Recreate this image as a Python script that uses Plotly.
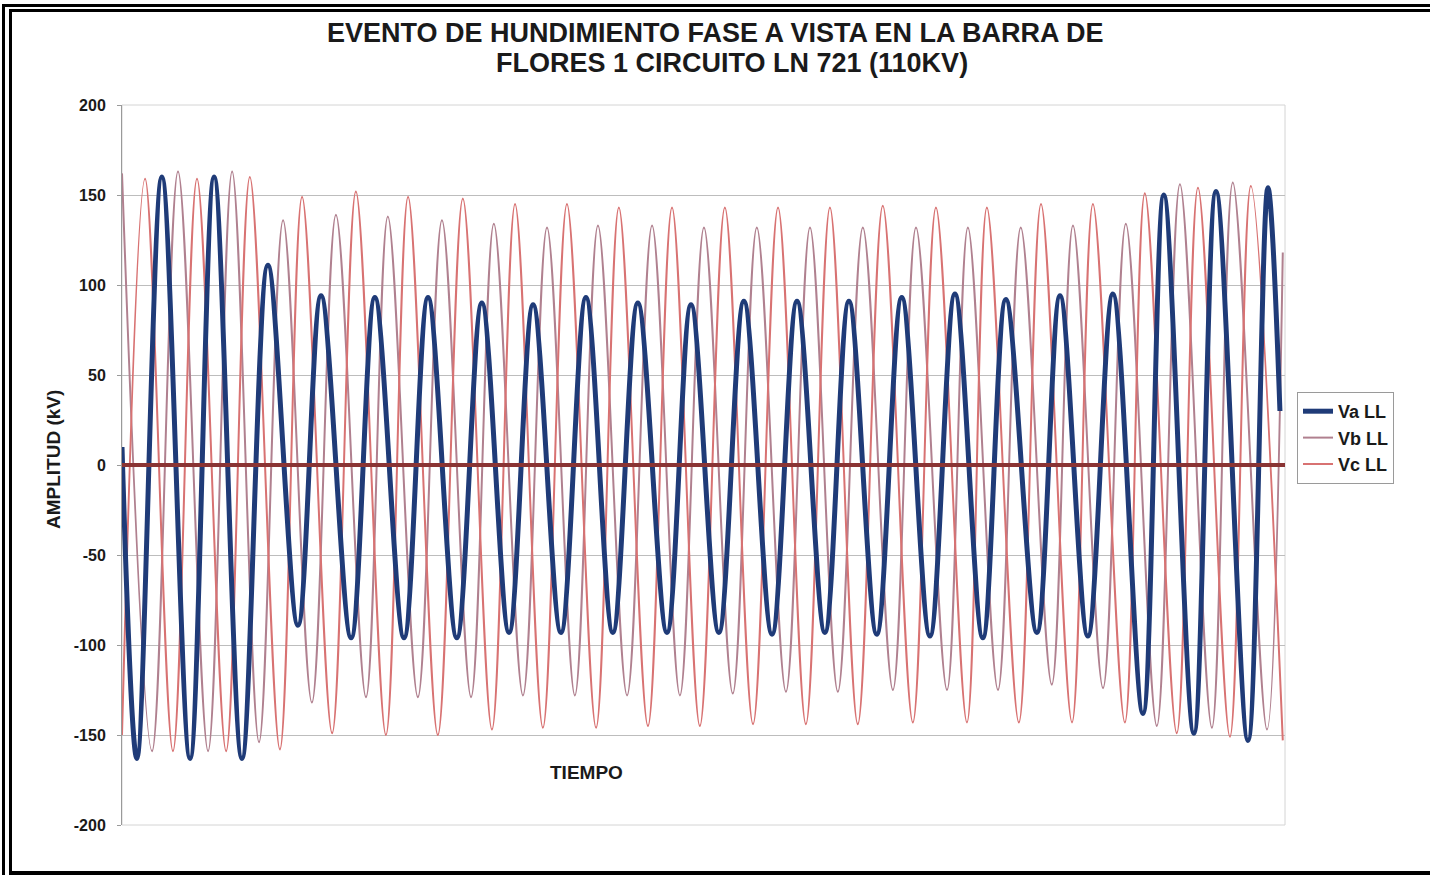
import plotly.graph_objects as go

# Extremos de cada onda (tiempo en ms, amplitud en kV)
t_va = [0, 4.7, 12.6, 21.5, 29.1, 37.9, 46.1, 55.6, 62.9, 72.4, 79.9, 89.1, 96.7, 105.8,
        113.7, 122.3, 129.9, 138.7, 146.6, 155.1, 163.0, 172.2, 179.8, 188.6, 196.5,
        205.4, 213.3, 222.1, 229.7, 238.5, 246.4, 255.3, 263.2, 272.0, 279.3, 289.1,
        296.4, 305.2, 313.1, 322.6, 329.2, 338.7, 345.7, 355.8, 362.1, 365.9]
va = [10, -163, 160, -163, 160, -163, 111, -89, 94, -96, 93, -96, 93, -96,
      90, -93, 89, -93, 93, -93, 90, -93, 89, -93, 91,
      -94, 91, -93, 91, -94, 93, -95, 95, -96, 92, -93,
      94, -95, 95, -138, 150, -149, 152, -153, 154, 30]

t_vb = [0, 9.5, 17.7, 27.2, 34.8, 43.3, 50.9, 60.0, 67.6, 77.1, 84.0, 93.5, 101.1,
        110.3, 117.5, 126.7, 134.3, 143.1, 150.4, 159.6, 167.5, 176.3, 183.9, 193.0,
        200.6, 209.8, 217.4, 226.2, 234.1, 243.6, 250.9, 260.7, 267.3, 276.8, 284.0,
        293.8, 300.5, 310.0, 317.2, 327.0, 334.3, 344.4, 351.0, 361.8, 366.8]
vb = [162, -159, 163, -159, 163, -154, 136, -132, 139, -129, 138, -129, 136,
      -129, 134, -128, 132, -128, 133, -128, 133, -128, 132, -127,
      132, -126, 132, -126, 132, -125, 132, -125, 132, -125, 132,
      -122, 133, -124, 134, -145, 156, -146, 157, -147, 118]

t_vc = [0, 7.3, 16.1, 23.7, 32.9, 40.4, 49.9, 56.9, 66.4, 73.9, 83.4, 90.4, 99.8,
        107.7, 116.9, 124.2, 133.0, 140.6, 149.8, 157.0, 166.2, 173.8, 182.6, 190.5,
        199.4, 207.3, 216.1, 223.7, 232.5, 240.4, 249.9, 257.2, 267.0, 273.3, 283.4,
        290.4, 300.2, 306.8, 316.9, 323.2, 333.3, 340.0, 350.1, 356.7, 366.8]
vc = [-150, 159, -159, 159, -159, 160, -158, 149, -149, 152, -150, 149, -150,
      148, -147, 145, -146, 145, -146, 143, -145, 143, -145, 143,
      -144, 143, -144, 143, -144, 144, -143, 143, -143, 143, -143,
      145, -143, 145, -143, 151, -149, 154, -151, 155, -153]

y_ticks = [-200, -150, -100, -50, 0, 50, 100, 150, 200]
t_end = 367.5

W, H = 1430, 875
L, R, T, B = 122, 1285, 105, 825


def px(x):
    return (x - L) / (R - L)


def py(y):
    return (B - y) / (B - T)


fig = go.Figure()

fig.add_trace(go.Scatter(
    x=t_vb, y=vb, name="Vb LL", mode="lines", legendgroup="b", legendrank=2,
    line=dict(color="#b0808f", width=2, shape="spline", smoothing=1.0)))
fig.add_trace(go.Scatter(
    x=t_vc, y=vc, name="Vc LL", mode="lines", legendgroup="c", legendrank=3,
    line=dict(color="#d87272", width=2, shape="spline", smoothing=1.0)))
fig.add_trace(go.Scatter(
    x=t_va, y=va, name="Va LL", mode="lines", legendgroup="a", legendrank=1,
    line=dict(color="#1f3b78", width=5, shape="spline", smoothing=1.0)))

bold = dict(family="Liberation Sans, Arial, sans-serif", color="#1a1a1a", weight="bold")

shapes = [
    # línea de referencia en 0 kV
    dict(type="line", xref="x", yref="y", x0=0, x1=t_end, y0=0, y1=0,
         line=dict(color="#8a3434", width=4), layer="above"),
    # contorno del área de trazado
    dict(type="rect", xref="paper", yref="paper", x0=0, x1=1, y0=0, y1=1,
         line=dict(color="#d4d4d4", width=1), layer="below"),
]

# marco doble de la figura
frame = [
    (2, 4, 1430, 7), (2, 4, 5, 875),
    (9, 9, 1430, 12), (9, 9, 12, 872),
    (9, 871, 1430, 875),
]
for x0, y0, x1, y1 in frame:
    shapes.append(dict(type="rect", xref="paper", yref="paper",
                       x0=px(x0), x1=px(x1), y0=py(y1), y1=py(y0),
                       fillcolor="black", line=dict(width=0), layer="above"))

annotations = [
    dict(text="EVENTO DE HUNDIMIENTO FASE A VISTA EN LA BARRA DE", x=px(715), y=py(33),
         xref="paper", yref="paper", showarrow=False, font=dict(bold, size=27),
         xanchor="center", yanchor="middle"),
    dict(text="FLORES 1 CIRCUITO LN 721 (110KV)", x=px(732), y=py(63),
         xref="paper", yref="paper", showarrow=False, font=dict(bold, size=27),
         xanchor="center", yanchor="middle"),
    dict(text="TIEMPO", x=px(586), y=py(772), xref="paper", yref="paper",
         showarrow=False, font=dict(bold, size=19), xanchor="center", yanchor="middle"),
    dict(text="AMPLITUD (kV)", x=px(53), y=py(460), xref="paper", yref="paper",
         showarrow=False, textangle=-90, font=dict(bold, size=19),
         xanchor="center", yanchor="middle"),
]

fig.update_layout(
    width=W, height=H,
    margin=dict(l=L, r=W - R, t=T, b=H - B, autoexpand=False),
    paper_bgcolor="white", plot_bgcolor="white",
    showlegend=True,
    legend=dict(x=px(1297), y=py(392), xanchor="left", yanchor="top",
                xref="paper", yref="paper",
                bordercolor="#9a9a9a", borderwidth=1, bgcolor="white",
                font=dict(bold, size=18), traceorder="normal",
                tracegroupgap=8, itemwidth=30),
    shapes=shapes,
    annotations=annotations,
)

fig.update_xaxes(range=[0, t_end], showticklabels=False, showgrid=False,
                 zeroline=False, showline=False, ticks="")
fig.update_yaxes(range=[-200, 200], tickvals=y_ticks, ticktext=[str(v) for v in y_ticks],
                 showgrid=True, gridcolor="#bdbdbd", gridwidth=1, zeroline=False,
                 showline=True, linecolor="#9a9a9a", linewidth=1,
                 ticks="outside", ticklen=4, tickcolor="#9a9a9a",
                 tickfont=dict(bold, size=16), ticklabelstandoff=8)

fig.write_html("out.html")
